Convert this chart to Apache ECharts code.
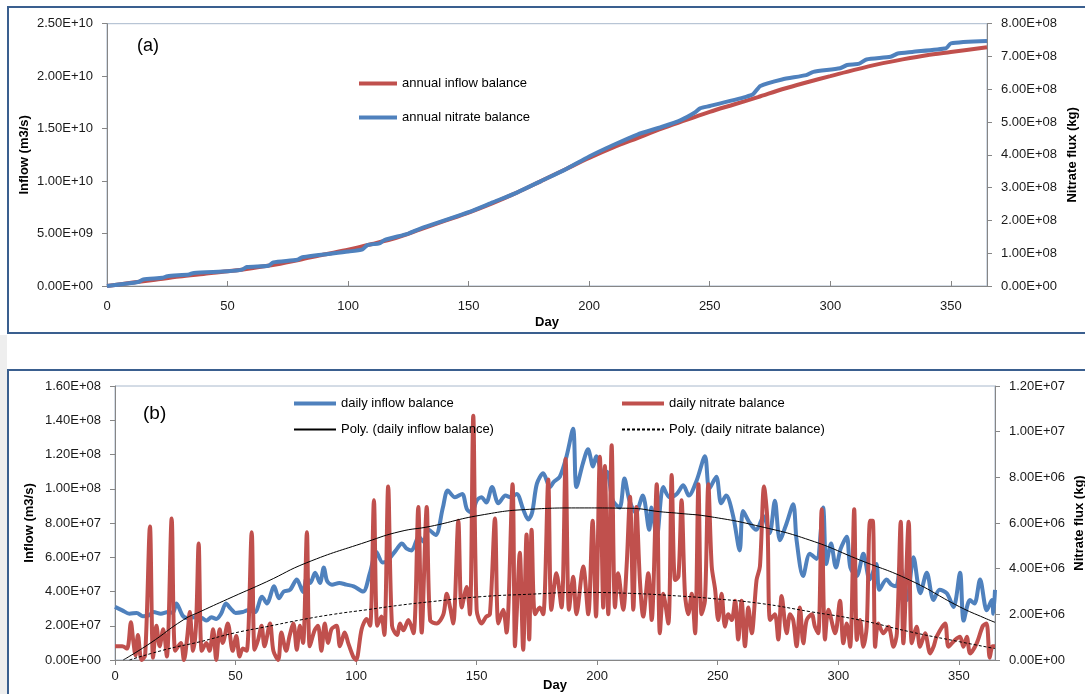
<!DOCTYPE html>
<html lang="en">
<head>
<meta charset="UTF-8">
<title>Inflow and nitrate balance</title>
<script src="https://cdn.jsdelivr.net/npm/echarts@6/dist/echarts.min.js"></script>
<style>
  html, body { margin: 0; padding: 0; background: #fff; }
  #main { width: 1085px; height: 694px; }
</style>
</head>
<body>
<div id="main"></div>
<script type="text/javascript">
// ---- data ----
// (a) cumulative balances: [day, value]; inflow in 1E9 m3/s, nitrate in 1E8 kg
var annualInflow = [[0,0],[10,0.3],[20,0.6],[30,0.9],[40,1.15],[50,1.4],[60,1.7],[70,2.05],[80,2.5],[90,3.0],
  [100,3.45],[110,4.0],[120,4.6],[130,5.4],[140,6.2],[150,7.0],[160,7.9],[170,8.9],[180,10.0],[190,11.1],
  [200,12.2],[210,13.2],[220,14.1],[230,15.0],[240,15.8],[250,16.6],[260,17.3],[270,18.0],[280,18.75],
  [290,19.4],[300,20.0],[310,20.6],[320,21.15],[330,21.6],[340,22.0],[350,22.3],[365,22.75]];
var annualNitrate = [[0,0],[13,0.12],[15,0.2],[23,0.25],[25,0.3],[34,0.35],[36,0.4],[50,0.45],[56,0.5],[58,0.58],
  [67,0.62],[69,0.72],[79,0.8],[81,0.88],[100,1.05],[106,1.12],[108,1.25],[113,1.3],[115,1.4],[125,1.6],
  [130,1.75],[140,2.0],[150,2.25],[160,2.55],[170,2.85],[180,3.2],[190,3.55],[200,3.95],[210,4.3],[220,4.62],
  [230,4.85],[238,5.06],[244,5.3],[246,5.42],[250,5.49],[265,5.77],[268,5.85],[271,6.1],[280,6.3],[290,6.43],
  [293,6.53],[304,6.64],[307,6.74],[312,6.78],[315,6.91],[325,6.99],[328,7.09],[334,7.14],[348,7.25],
  [350,7.4],[365,7.47]];

// (b) daily balances: inflow in 1E7 m3/s, nitrate in 1E6 kg
var dailyInflow = [[0,3.1],[3,2.9],[6,2.7],[9,2.75],[11.6,2.55],[14,2.6],[16,2.8],[19,2.7],[22,2.8],[24,2.75],
  [25.5,3.3],[28,2.6],[30,2.45],[33,2.5],[36,2.45],[38,2.3],[40,2.5],[42,2.4],[44,2.7],[46,3.3],[48,3.0],
  [50,2.75],[53,2.8],[55,2.9],[58,2.8],[61,3.7],[63,3.3],[66,4.3],[68,3.6],[70,4.0],[72.6,4.1],[75.4,4.7],
  [78,3.97],[79.5,4.8],[81,4.5],[83,5.1],[85,4.5],[86.6,5.4],[88,4.6],[90,4.4],[93,4.5],[96,4.4],[99,4.3],
  [102.9,4.0],[105.7,5.07],[108.4,6.3],[111,5.7],[113,5.8],[116.5,6.4],[119,6.8],[121,6.5],[123,6.4],
  [126,7.2],[128,6.9],[130,7.6],[133,7.3],[136,8.9],[138,9.9],[141,9.5],[144,9.7],[146,8.8],[148,8.6],
  [150,9.3],[152,9.5],[154,9.2],[156.4,10.1],[159,9.15],[162,9.6],[164,9.5],[166.6,9.7],[169.3,8.8],
  [171.4,8.2],[173,8.6],[175,10.3],[177.6,10.9],[180.4,10.1],[182,10.4],[184.5,10.7],[187.3,11.9],
  [190,13.5],[191.4,10.1],[194.1,11.5],[196.2,12.3],[198.3,11.3],[199.6,11.9],[202.4,10.9],[204,11.0],
  [206.5,9.3],[209.3,8.9],[211.3,10.6],[213.4,9.3],[216,8.6],[218.9,9.6],[221.6,7.6],[222.5,8.9],
  [224.7,7.2],[227.4,10.1],[230,9.5],[233,9.7],[235.7,10.2],[238,9.6],[241.3,10.5],[244.7,11.9],
  [246.5,10.0],[249.4,10.7],[251.4,9.15],[253.5,9.6],[256.4,8.4],[259.1,6.4],[260.5,8.7],[263.3,8.0],
  [266,7.6],[269,8.4],[271.5,7.4],[273.7,9.3],[275.8,7.0],[278.6,8.0],[281.3,9.1],[282.7,7.0],[285.4,4.9],
  [288.2,6.2],[291,5.9],[293.7,8.9],[295,5.6],[297,6.8],[299,5.4],[301,6.5],[303.5,7.2],[305,5.4],
  [307.6,4.9],[310.4,6.2],[313,4.7],[315.8,5.6],[317,4.1],[320,4.7],[322,4.4],[324,4.3],[325.7,5.45],
  [328.5,3.5],[331.2,6.0],[334,3.9],[336.7,5.1],[339.5,3.5],[342,4.1],[345,3.9],[347.8,3.1],[350.5,5.1],
  [352,2.3],[354.6,3.5],[356.5,3.3],[358.8,4.7],[361.6,2.9],[363.7,3.5],[364.3,2.7],[365,4.1]];

var dailyNitrate = [[0,0.6],[3,0.6],[5,0.5],[6.6,1.65],[7.5,0.9],[8.5,0.2],[9.5,1.1],[11,0],[12.5,0.2],
  [14.5,5.85],[15.8,0.1],[17.2,1.5],[18.5,0.6],[20,1.35],[21.5,0.15],[23.5,6.2],[25,0.4],[27.3,0.75],
  [28.6,0],[30,1.05],[31,2.1],[32.4,0.4],[33.6,1.5],[34.7,5.1],[36,0.4],[37.9,0.75],[39.2,0.4],[40.7,1.35],
  [42,0],[43.4,1.35],[44.7,0.75],[46.8,1.6],[48.8,0.4],[50.3,1.05],[51.7,0.15],[53,0.5],[54.6,0.4],
  [56.7,5.6],[57.9,0.45],[59.4,0.9],[60.8,1.5],[62,0.6],[64.3,1.6],[65.7,0.4],[67.7,0],[69,1.2],[71,0.4],
  [72.4,1.05],[74,1.6],[75.4,0.45],[76.7,1.5],[78,0.75],[79.6,5.6],[80.8,0.6],[82.8,1.3],[84.2,1.5],
  [85.6,0.4],[87,1.6],[88.4,0.75],[89.8,1.35],[91.9,1.5],[93.3,0.6],[95.3,1.2],[96.7,0.75],[98.8,0.15],
  [100,0],[102.3,1.35],[104.4,1.8],[105.8,1.5],[107.4,7.0],[108.8,1.5],[110.5,1.9],[111.7,1.1],[113.3,7.6],
  [114.9,1.5],[117,1.1],[118.2,1.6],[119.6,1.3],[121.7,1.75],[123.8,1.17],[125.8,6.7],[127.2,1.2],
  [129.3,6.7],[130.7,1.75],[133.4,1.6],[136.2,2.0],[137.6,2.9],[139,2.3],[140.3,1.6],[142.4,6.1],
  [143.8,2.3],[145.9,3.2],[147.2,2.0],[148.6,10.7],[150,2.2],[152,1.6],[154,1.9],[155.5,2.0],[157.6,6.2],
  [159,1.6],[161,2.2],[162.4,1.2],[164.9,7.7],[165.9,0.6],[166.6,2.0],[167.9,4.7],[169.3,0.45],[170.7,5.5],
  [171.8,0.9],[172.8,5.7],[174.2,2.0],[176.2,2.3],[177.6,2.0],[179.7,7.9],[181,2.2],[183.1,3.8],[185.2,2.3],
  [186.9,8.8],[188.3,2.2],[190.1,3.65],[191.4,2.0],[194.2,4.1],[196.3,2.0],[198.1,6.1],[199.5,1.9],
  [201.1,8.9],[202.5,2.3],[203.2,8.5],[204.6,2.0],[206,9.4],[207.4,2.3],[208.7,3.8],[210.8,2.2],[212.2,4.1],
  [213.6,7.15],[215,2.2],[216.3,6.7],[217.7,3.5],[219.1,1.9],[221.2,3.8],[222.6,1.75],[224.7,7.7],[226,1.17],
  [227.4,2.9],[229.5,1.6],[230.9,8.1],[232.3,3.5],[233.7,3.65],[235,7.0],[236.4,2.9],[237.8,2.0],[239.2,2.9],
  [240.6,1.17],[242,7.7],[243.3,2.0],[244.7,2.6],[246.1,7.7],[247.5,4.1],[248.9,3.1],[250.2,1.75],
  [251.6,2.9],[253,1.46],[254.4,2.0],[255.8,1.75],[257.2,2.6],[258.5,0.9],[259.9,2.6],[261.3,0.6],
  [262.7,2.3],[264.1,1.17],[266.1,3.5],[267.5,4.1],[269.2,7.6],[270.6,6.1],[271.7,1.75],[273.7,2.0],
  [275.1,0.9],[276.5,2.8],[278.6,1.17],[280,2.0],[281.3,1.75],[282.7,0.6],[284.1,2.3],[285.5,0.73],
  [286.9,1.75],[289,2.0],[290.3,1.46],[291.7,1.17],[293.1,6.6],[294.5,0.9],[295.9,2.2],[298.7,1.17],
  [300.7,2.6],[302.1,0.73],[303.5,1.6],[304.9,0.58],[306.6,6.6],[307.7,0.88],[309,1.75],[310.4,0.58],
  [311.8,1.46],[313.2,6.1],[314.3,6.1],[315.3,0.58],[316.6,1.6],[318.7,1.17],[320.8,1.46],[322.9,0.58],
  [324.3,1.17],[325.9,6.06],[327,0.73],[329.2,6.06],[330.5,0.73],[332.5,1.46],[333.9,0.58],[336,1.17],
  [338.1,0.29],[339.5,0.58],[340.8,1.02],[344.3,1.6],[345.7,0.58],[348.4,0.88],[350.5,1.02],[351.9,0.58],
  [353.3,1.02],[354.7,0.29],[357.4,0.73],[360,1.5],[361.5,1.6],[362.8,0.1],[364,0.6],[365,0.6]];

// polynomial trend lines as drawn
var polyInflow = [[3.4,0],[14.5,0.97],[28.3,2.34],[35.3,2.82],[49,3.7],[62.9,4.57],[79.5,5.68],[104.4,6.9],
  [118.2,7.5],[130.7,7.8],[151.4,8.45],[172,8.8],[192.8,8.88],[213.5,8.86],[226,8.66],[234.3,8.56],
  [246.8,8.37],[267.5,7.8],[288.2,7.0],[308.9,5.84],[329.6,4.67],[350.3,3.11],[360.7,2.45],[365,2.2]];
var polyNitrate = [[6,0],[21.4,0.47],[35.3,0.8],[49,1.17],[62.9,1.46],[76.7,1.75],[90.5,2.0],[104.4,2.2],
  [118.2,2.4],[130.7,2.55],[151.4,2.77],[172,2.88],[192.8,2.96],[213.5,2.92],[234.3,2.8],[246.8,2.7],
  [267.5,2.48],[288.2,2.12],[308.9,1.75],[329.6,1.24],[350.3,0.8],[365,0.5]];

function scale(arr, unit) {
  return arr.map(function (p) { return [p[0], p[1] * unit]; });
}

// Excel style 2.50E+10
function sci(v) {
  if (v === 0) return '0.00E+00';
  var e = Math.floor(Math.log10(v) + 1e-9);
  var m = v / Math.pow(10, e);
  return m.toFixed(2) + 'E+' + (e < 10 ? '0' : '') + e;
}

var RED = '#C0504D', BLUE = '#4F81BD';
var FONT = 'Liberation Sans';
var labelStyle = { color: '#1a1a1a', fontSize: 13, fontFamily: FONT };
var nameStyle = { color: '#000', fontSize: 13, fontWeight: 'bold', fontFamily: FONT };
var axLine = { show: true, lineStyle: { color: '#868686', width: 1 } };
var legendText = { fontSize: 13, fontFamily: FONT, color: '#000' };
var thick = { width: 4 };

function yAxis(grid, pos, max, step, name, gap) {
  return {
    type: 'value', gridIndex: grid, position: pos, min: 0, max: max, interval: step,
    name: name, nameLocation: 'middle', nameGap: gap, nameTextStyle: nameStyle, nameMoveOverlap: false,
    axisLine: axLine, axisTick: { show: true, length: 5, lineStyle: { color: '#868686' } },
    splitLine: { show: false },
    axisLabel: Object.assign({ margin: 14, formatter: sci }, labelStyle)
  };
}

function xAxis(grid, inside, margin, gap) {
  return {
    type: 'value', gridIndex: grid, min: 0, max: 365, interval: 50,
    name: 'Day', nameLocation: 'middle', nameGap: gap, nameTextStyle: nameStyle, nameMoveOverlap: false,
    axisLine: axLine, axisTick: { show: true, inside: inside, length: 5, lineStyle: { color: '#868686' } },
    splitLine: { show: false },
    axisLabel: Object.assign({ margin: margin, showMaxLabel: false,
      formatter: function (v) { return v % 50 === 0 ? String(v) : ''; } }, labelStyle)
  };
}

var myChart = echarts.init(document.getElementById('main'));

var option = {
  backgroundColor: '#fff',
  animation: false,
  grid: [
    { left: 107, right: 98, top: 23.7, height: 262.3, show: true, borderColor: '#A8B8CC', borderWidth: 1,
      outerBoundsMode: 'none' },
    { left: 115, right: 90, top: 386, height: 274, show: true, borderColor: '#A8B8CC', borderWidth: 1,
      outerBoundsMode: 'none' }
  ],
  xAxis: [xAxis(0, true, 14, 30), xAxis(1, false, 10, 19)],
  yAxis: [
    yAxis(0, 'left', 2.5e10, 5e9, 'Inflow (m3/s)', 76),
    yAxis(0, 'right', 8e8, 1e8, 'Nitrate flux (kg)', 79),
    yAxis(1, 'left', 1.6e8, 2e7, 'Inflow (m3/s)', 79),
    yAxis(1, 'right', 1.2e7, 2e6, 'Nitrate flux (kg)', 78)
  ],
  legend: [
    { data: [{ name: 'annual inflow balance', lineStyle: thick }, { name: 'annual nitrate balance', lineStyle: thick }],
      orient: 'vertical', left: 352, top: 72,
      itemWidth: 38, itemHeight: 14, itemGap: 21, itemStyle: { opacity: 0 }, textStyle: legendText },
    { data: [{ name: 'daily inflow balance', lineStyle: thick }, 'Poly. (daily inflow balance)'],
      orient: 'vertical', left: 287, top: 392,
      itemWidth: 42, itemHeight: 14, itemGap: 13, itemStyle: { opacity: 0 }, textStyle: legendText },
    { data: [{ name: 'daily nitrate balance', lineStyle: thick }, 'Poly. (daily nitrate balance)'],
      orient: 'vertical', left: 615, top: 392,
      itemWidth: 42, itemHeight: 14, itemGap: 13, itemStyle: { opacity: 0 }, textStyle: legendText }
  ],
  graphic: [
    { type: 'rect', shape: { x: 0, y: 335, width: 7, height: 360 }, style: { fill: '#EEEEEE' }, silent: true },
    { type: 'rect', shape: { x: 8, y: 7, width: 1100, height: 326 }, style: { fill: 'none', stroke: '#3A5F8F', lineWidth: 2 }, silent: true },
    { type: 'rect', shape: { x: 8, y: 370, width: 1100, height: 340 }, style: { fill: 'none', stroke: '#3A5F8F', lineWidth: 2 }, silent: true },
    { type: 'text', left: 137, top: 37, style: { text: '(a)', fontSize: 18, fontFamily: FONT, fill: '#000' } },
    { type: 'text', left: 143, top: 404, style: { text: '(b)', fontSize: 19, fontFamily: FONT, fill: '#000' } }
  ],
  series: [
    { name: 'annual inflow balance', type: 'line', xAxisIndex: 0, yAxisIndex: 0, symbol: 'none', smooth: 0.3,
      data: scale(annualInflow, 1e9), lineStyle: { color: RED, width: 4 }, itemStyle: { color: RED } },
    { name: 'annual nitrate balance', type: 'line', xAxisIndex: 0, yAxisIndex: 1, symbol: 'none', smooth: 0.2,
      data: scale(annualNitrate, 1e8), lineStyle: { color: BLUE, width: 4 }, itemStyle: { color: BLUE } },
    { name: 'daily inflow balance', type: 'line', xAxisIndex: 1, yAxisIndex: 2, symbol: 'none', smooth: 0.3,
      data: scale(dailyInflow, 1e7), lineStyle: { color: BLUE, width: 4 }, itemStyle: { color: BLUE } },
    { name: 'daily nitrate balance', type: 'line', xAxisIndex: 1, yAxisIndex: 3, symbol: 'none', smooth: 0.3,
      data: scale(dailyNitrate, 1e6), lineStyle: { color: RED, width: 4 }, itemStyle: { color: RED } },
    { name: 'Poly. (daily inflow balance)', type: 'line', xAxisIndex: 1, yAxisIndex: 2, symbol: 'none', smooth: true,
      data: scale(polyInflow, 1e7), lineStyle: { color: '#000', width: 1 }, itemStyle: { color: '#000' } },
    { name: 'Poly. (daily nitrate balance)', type: 'line', xAxisIndex: 1, yAxisIndex: 3, symbol: 'none', smooth: true,
      data: scale(polyNitrate, 1e6), lineStyle: { color: '#000', width: 1, type: [3, 2] }, itemStyle: { color: '#000' } }
  ]
};

myChart.setOption(option);
</script>
</body>
</html>
